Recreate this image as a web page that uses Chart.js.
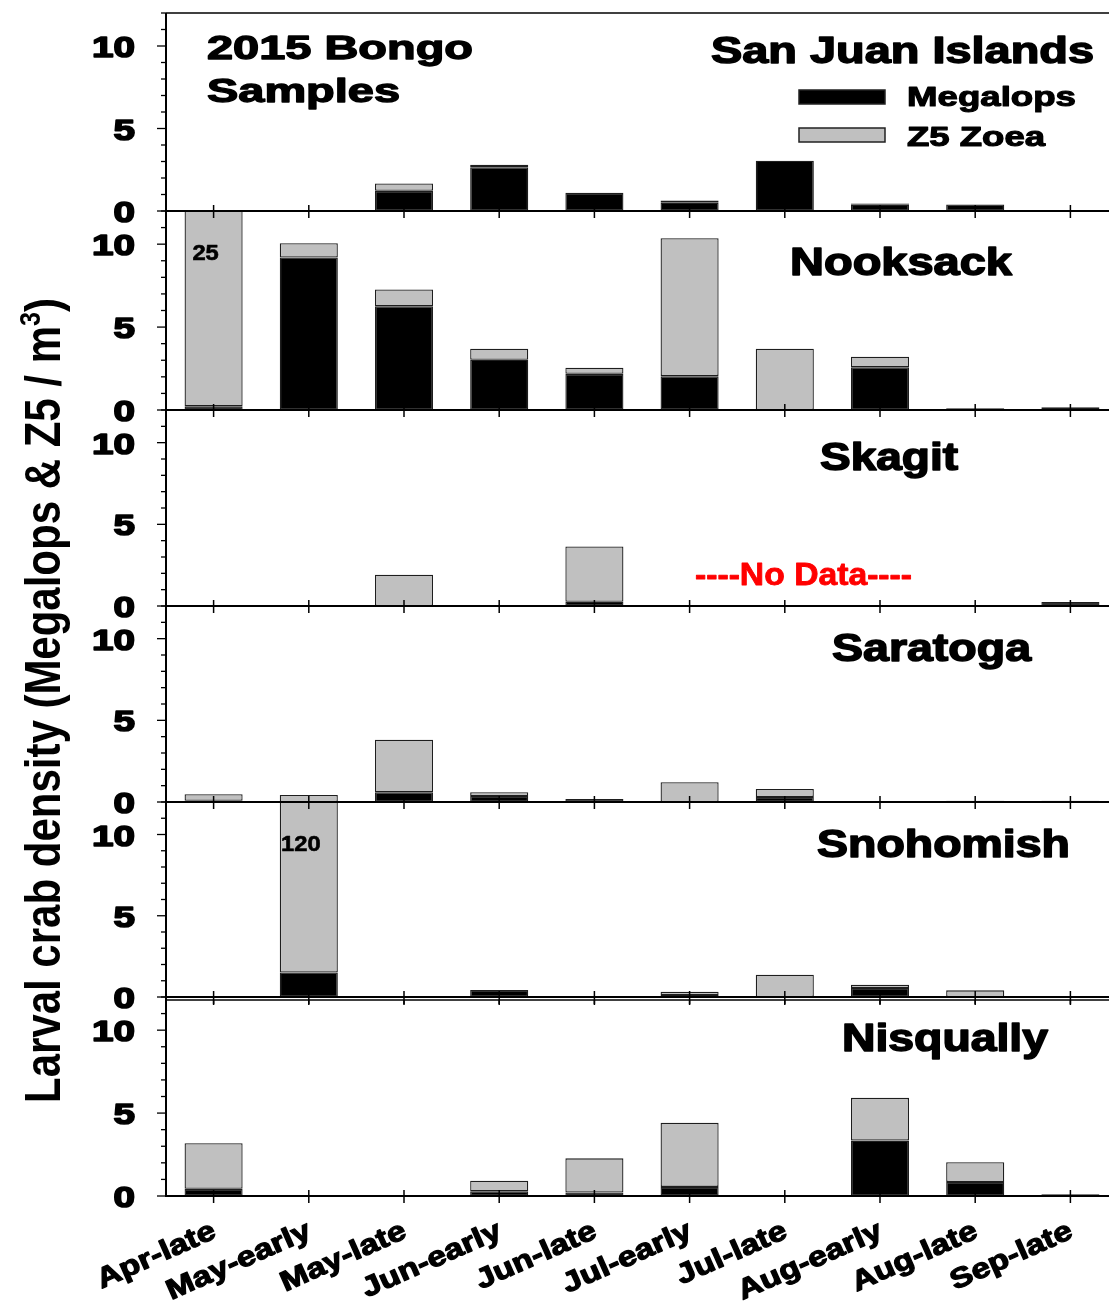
<!DOCTYPE html>
<html>
<head>
<meta charset="utf-8">
<script src="https://cdn.jsdelivr.net/npm/chart.js@4.4.1/dist/chart.umd.min.js"></script>
<style>
  html, body { margin: 0; padding: 0; background: #fff; overflow: hidden; }
  #wrap { width: 1109px; height: 1301px; overflow: hidden; position: relative; }
  #wrap canvas { position: absolute; left: 0; top: 0; }
</style>
</head>
<body>
<div id="wrap"><canvas id="chart" width="1120" height="1301"></canvas></div>
<script>
// Sampling periods (x categories)
const periods = ['Apr-late', 'May-early', 'May-late', 'Jun-early', 'Jun-late',
                 'Jul-early', 'Jul-late', 'Aug-early', 'Aug-late', 'Sep-late'];

// Sampling sites, one panel each (top to bottom)
const sites = ['San Juan Islands', 'Nooksack', 'Skagit', 'Saratoga', 'Snohomish', 'Nisqually'];

// Density (individuals / m3) per period; null = not sampled
const sanJuanMegalops   = [0, 0, 1.22, 2.65, 1.10, 0.50, 3.05, 0.38, 0.39, 0];
const sanJuanZoea       = [0, 0, 0.45, 0.15, 0,    0.14, 0,    0.07, 0,    0];

const nooksackMegalops  = [0.22, 9.20, 6.26, 3.03, 2.18, 2.04, 0,    2.58, 0.05, 0.05];
const nooksackZoea      = [24.78, 0.86, 1.01, 0.67, 0.37, 8.32, 3.70, 0.63, 0.05, 0.12];

const skagitMegalops    = [0, 0, 0,    0, 0.26, null, null, null, null, 0.25];
const skagitZoea        = [0, 0, 1.92, 0, 3.38, null, null, null, null, 0];

const saratogaMegalops  = [0.08, 0,    0.60, 0.37, 0.18, 0,    0.31, 0, 0.08, 0.08];
const saratogaZoea      = [0.39, 0.43, 3.21, 0.23, 0,    1.21, 0.49, 0, 0,    0];

const snohomishMegalops = [0, 1.51,   0, 0.43, 0, 0.12, 0,    0.55, 0,    0];
const snohomishZoea     = [0, 118.49, 0, 0,    0, 0.21, 1.37, 0.21, 0.41, 0];

const nisquallyMegalops = [0.43, 0, 0, 0.29, 0.21, 0.55, 0, 3.34, 0.84, 0.10];
const nisquallyZoea     = [2.75, 0, 0, 0.63, 2.06, 3.86, 0, 2.58, 1.20, 0];

// Panel axis range and labelled ticks
const yMax = 12;
const yTickLabels = [0, 5, 10];

const seriesNames = ['Megalops', 'Z5 Zoea'];
const siteSeries = [
  [sanJuanMegalops, sanJuanZoea],
  [nooksackMegalops, nooksackZoea],
  [skagitMegalops, skagitZoea],
  [saratogaMegalops, saratogaZoea],
  [snohomishMegalops, snohomishZoea],
  [nisquallyMegalops, nisquallyZoea]
];

const MEGA_COLOR = '#000000';
const ZOEA_COLOR = '#c0c0c0';
const EDGE_COLOR = '#1e1e1e';
const FONT = '"Liberation Sans", Arial, sans-serif';

// relative panel heights
const panelWeights = [198, 199, 196, 196, 195, 199];

// ---- scales: one shared category axis, six stacked value axes ----
const scales = {
  x: { type: 'category', labels: periods, offset: true, display: false, grid: { offset: true } }
};
sites.forEach((s, i) => {
  scales['y' + i] = {
    type: 'linear', position: 'left', stack: 'sites', stackWeight: panelWeights[i],
    weight: sites.length - i, min: 0, max: yMax, stacked: true, display: false
  };
});

const datasets = [];
siteSeries.forEach((pair, i) => {
  pair.forEach((values, k) => {
    datasets.push({
      label: seriesNames[k],
      data: values,
      yAxisID: 'y' + i,
      stack: 'site' + i,
      backgroundColor: k === 0 ? MEGA_COLOR : ZOEA_COLOR,
      borderColor: EDGE_COLOR,
      borderWidth: 1.3,
      borderSkipped: false,
      grouped: false,
      barPercentage: 0.61,
      categoryPercentage: 1
    });
  });
});

// keep each panel's bars inside their own panel (tall bars are cut at the panel top)
const panelClip = {
  id: 'panelClip',
  beforeDatasetDraw(chart, args) {
    const ys = chart.scales[args.meta.yAxisID];
    const a = chart.chartArea;
    const ctx = chart.ctx;
    ctx.save();
    ctx.beginPath();
    ctx.rect(a.left, ys.top, a.right - a.left, ys.bottom - ys.top + 1);
    ctx.clip();
  },
  afterDatasetDraw(chart) { chart.ctx.restore(); }
};

// bold text squeezed or stretched to a given width, with a thin outline for weight
function fitText(ctx, text, x, baseline, width, size, color, align, heavy) {
  ctx.save();
  ctx.font = 'bold ' + size + 'px ' + FONT;
  const w = ctx.measureText(text).width;
  ctx.translate(x, baseline);
  ctx.scale(width / w, 1);
  ctx.fillStyle = color || '#000';
  ctx.strokeStyle = color || '#000';
  ctx.lineJoin = 'round';
  ctx.textAlign = align || 'left';
  ctx.textBaseline = 'alphabetic';
  ctx.fillText(text, 0, 0);
  const hw = heavy === undefined ? size * 0.04 : heavy;
  if (hw > 0) {
    ctx.lineWidth = hw;
    ctx.strokeText(text, 0, 0);
  }
  ctx.restore();
}

function line(ctx, x1, y1, x2, y2, w) {
  ctx.lineWidth = w;
  ctx.beginPath();
  ctx.moveTo(x1, y1);
  ctx.lineTo(x2, y2);
  ctx.stroke();
}

const frame = {
  id: 'frame',
  afterDatasetsDraw(chart) {
    const ctx = chart.ctx;
    const a = chart.chartArea;
    const xs = chart.scales.x;
    const right = chart.width;
    ctx.save();
    ctx.strokeStyle = '#000';
    ctx.fillStyle = '#000';

    // top frame line and left axis line
    line(ctx, a.left, a.top, right, a.top, 1.5);
    line(ctx, a.left, a.top, a.left, a.bottom + 1, 2);

    sites.forEach((site, i) => {
      const ys = chart.scales['y' + i];
      const y0 = ys.getPixelForValue(0);
      // zero line of this panel
      ctx.strokeStyle = '#000';
      line(ctx, a.left, y0, right, y0, 2);
      // category ticks crossing the zero line
      periods.forEach((p, j) => {
        const x = xs.getPixelForValue(j);
        line(ctx, x, y0 - 6, x, y0 + 7, 1.5);
      });
      // value ticks: major with labels, minor every unit
      for (let v = 0; v <= yMax; v++) {
        const y = ys.getPixelForValue(v);
        const major = yTickLabels.includes(v);
        line(ctx, a.left - (major ? 9 : 5), y, a.left, y, 1.3);
      }
      yTickLabels.forEach(v => {
        const y = ys.getPixelForValue(v);
        const t = String(v);
        fitText(ctx, t, 135, y + 11, t.length * 21.5, 30, '#000', 'right', 1.6);
      });
    });

    // double rule above the bottom panel
    const yLast = chart.scales['y' + (sites.length - 1)];
    ctx.strokeStyle = '#000';
    line(ctx, a.left, yLast.top + 3, right, yLast.top + 3, 1.5);
    periods.forEach((p, j) => {
      const x = xs.getPixelForValue(j);
      line(ctx, x, yLast.top + 3, x, yLast.top + 8, 1.5);
    });

    // category labels, rotated
    const yBase = yLast.getPixelForValue(0);
    periods.forEach((p, j) => {
      const x = xs.getPixelForValue(j);
      ctx.save();
      ctx.translate(x + 4, yBase + 41);
      ctx.rotate(-24 * Math.PI / 180);
      ctx.scale(1.2, 1);
      ctx.font = 'bold 28px ' + FONT;
      ctx.textAlign = 'right';
      ctx.textBaseline = 'alphabetic';
      ctx.fillStyle = '#000';
      ctx.strokeStyle = '#000';
      ctx.lineWidth = 1.2;
      ctx.lineJoin = 'round';
      ctx.fillText(p, 0, 0);
      ctx.strokeText(p, 0, 0);
      ctx.restore();
    });

    // values of bars cut at the panel top
    siteSeries.forEach((pair, i) => {
      const ys = chart.scales['y' + i];
      periods.forEach((p, j) => {
        const total = (pair[0][j] || 0) + (pair[1][j] || 0);
        if (total > yMax) {
          const x = xs.getPixelForValue(j);
          const t = String(Math.round(total));
          fitText(ctx, t, x - 8, ys.top + 49, t.length * 13.2, 22, '#000', 'center', 0.6);
        }
      });
    });

    // panel titles
    const titles = [
      [711, 63, 383, 37],
      [790, 275, 222, 39],
      [820, 470, 138, 38],
      [832, 661, 199, 38],
      [817, 857, 253, 38],
      [842, 1051, 206, 38]
    ];
    sites.forEach((s, i) => {
      const t = titles[i];
      fitText(ctx, s, t[0], t[1], t[2], t[3], '#000');
    });

    // heading
    fitText(ctx, '2015 Bongo', 207, 59, 266, 34, '#000');
    fitText(ctx, 'Samples', 207, 102, 193, 34, '#000');

    // legend
    const swatches = [[MEGA_COLOR, 90, 106], [ZOEA_COLOR, 128, 146]];
    const legendWidths = [169, 138];
    seriesNames.forEach((n, k) => {
      const [col, top, base] = swatches[k];
      ctx.fillStyle = col;
      ctx.fillRect(799, top, 86, 14);
      ctx.lineWidth = 1.5;
      ctx.strokeStyle = '#222';
      ctx.strokeRect(799, top, 86, 14);
      fitText(ctx, n, 907, base, legendWidths[k], 28, '#000');
    });

    // unsampled periods at Skagit
    fitText(ctx, '----No Data----', 695, 585, 217, 31, '#ff0000', 'left', 0.8);

    // y axis title with superscript
    ctx.save();
    ctx.translate(60, 1103);
    ctx.rotate(-Math.PI / 2);
    const main = 'Larval crab density (Megalops & Z5 / m';
    ctx.font = 'bold 50px ' + FONT;
    const w1 = ctx.measureText(main).width;
    ctx.font = 'bold 30px ' + FONT;
    const w2 = ctx.measureText('3').width;
    ctx.font = 'bold 50px ' + FONT;
    const w3 = ctx.measureText(')').width;
    const sx = 805 / (w1 + w2 + w3);
    ctx.scale(sx, 1);
    ctx.fillStyle = '#000';
    ctx.textBaseline = 'alphabetic';
    ctx.textAlign = 'left';
    ctx.fillText(main, 0, 0);
    ctx.font = 'bold 30px ' + FONT;
    ctx.fillText('3', w1, -20);
    ctx.font = 'bold 50px ' + FONT;
    ctx.fillText(')', w1 + w2, 0);
    ctx.restore();

    ctx.restore();
  }
};

new Chart(document.getElementById('chart'), {
  type: 'bar',
  data: { labels: periods, datasets },
  options: {
    responsive: false,
    devicePixelRatio: 1,
    animation: false,
    layout: { padding: { left: 166, top: 13, right: 2, bottom: 105 } },
    scales,
    plugins: { legend: { display: false }, tooltip: { enabled: false }, title: { display: false } }
  },
  plugins: [panelClip, frame]
});
</script>
</body>
</html>
